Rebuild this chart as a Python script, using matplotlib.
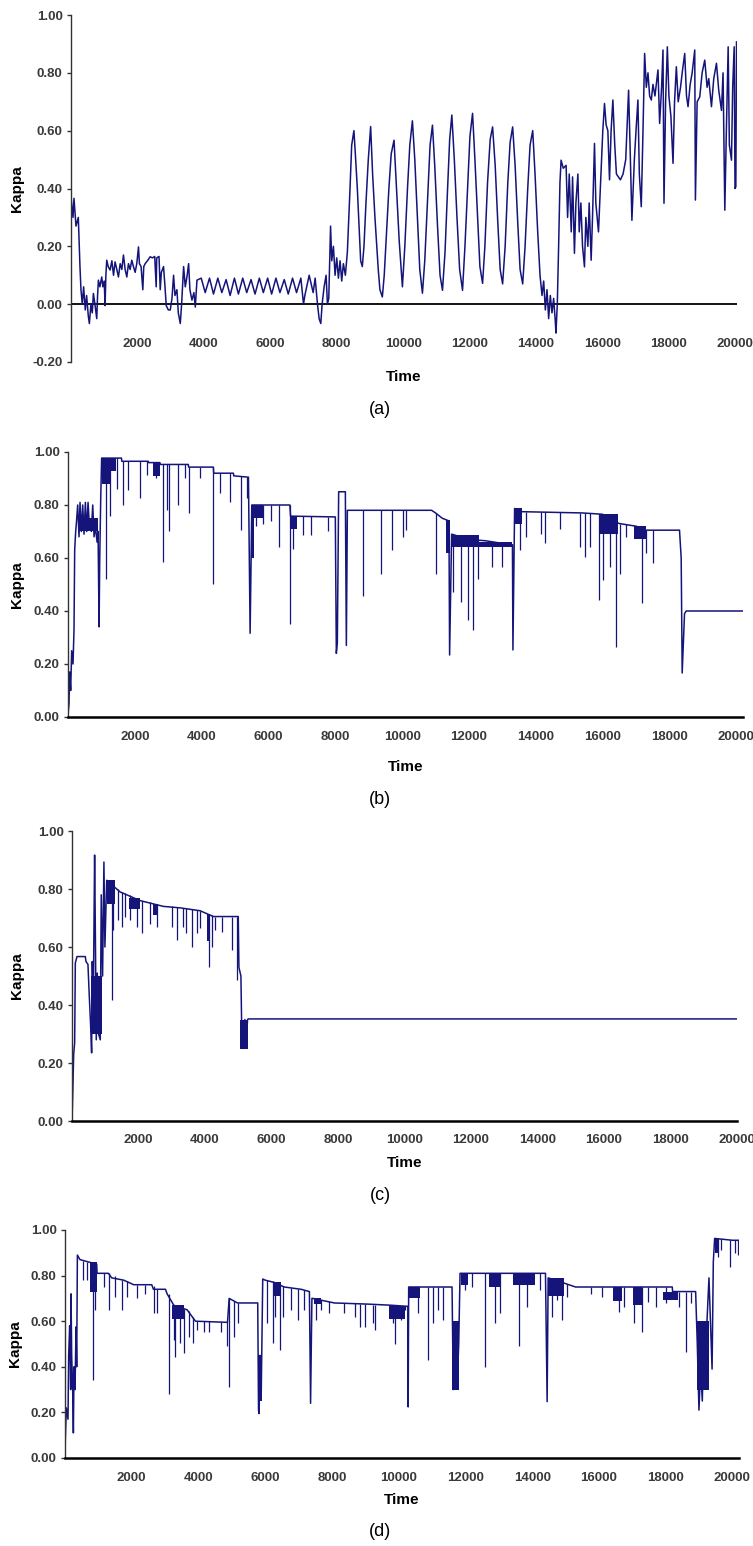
import matplotlib
matplotlib.use("Agg")
import matplotlib.pyplot as plt
import numpy as np

plt.rcParams['font.family'] = ['Liberation Sans', 'DejaVu Sans']

# ---- panel (a): kappa trace, (time, kappa)
a_points = [
    (0, 0.37), (60, 0.30), (90, 0.366), (150, 0.27), (220, 0.30), (270, 0.13), (300, 0.05),
    (340, 0.0), (380, 0.06), (430, -0.02), (470, 0.03), (520, -0.04), (553, -0.067), (600, 0.0),
    (640, -0.03), (674, 0.037), (720, 0.0), (775, -0.05), (800, 0.03), (825, 0.083), (870, 0.06),
    (925, 0.094), (960, 0.06), (1000, 0.08), (1026, -0.005), (1050, 0.10), (1076, 0.152),
    (1120, 0.13), (1177, 0.118), (1230, 0.15), (1280, 0.10), (1327, 0.146), (1380, 0.12),
    (1428, 0.094), (1480, 0.14), (1530, 0.12), (1579, 0.17), (1630, 0.12), (1680, 0.094),
    (1730, 0.14), (1780, 0.12), (1830, 0.152), (1880, 0.13), (1931, 0.11), (1980, 0.14),
    (2032, 0.198), (2060, 0.14), (2110, 0.13), (2162, 0.05), (2190, 0.13), (2233, 0.14),
    (2300, 0.15), (2384, 0.164), (2450, 0.16), (2520, 0.165), (2565, 0.06), (2580, 0.16),
    (2650, 0.165), (2686, 0.05), (2720, 0.11), (2786, 0.13), (2830, 0.06), (2867, -0.005),
    (2930, -0.02), (2988, -0.02), (3040, 0.02), (3088, 0.10), (3130, 0.03), (3189, 0.05),
    (3230, -0.03), (3290, -0.067), (3330, 0.0), (3390, 0.13), (3440, 0.06), (3490, 0.094),
    (3541, 0.14), (3580, 0.05), (3641, 0.014), (3700, 0.04), (3742, -0.01), (3792, 0.083),
    (3920, 0.09), (4040, 0.04), (4170, 0.09), (4290, 0.035), (4420, 0.09), (4540, 0.04),
    (4670, 0.085), (4790, 0.03), (4920, 0.09), (5040, 0.035), (5170, 0.09), (5290, 0.04),
    (5420, 0.085), (5540, 0.035), (5670, 0.09), (5790, 0.04), (5920, 0.09), (6040, 0.035),
    (6170, 0.09), (6290, 0.04), (6420, 0.085), (6540, 0.035), (6670, 0.09), (6790, 0.04),
    (6920, 0.09), (7000, 0.0), (7040, 0.03), (7170, 0.10), (7290, 0.04), (7350, 0.09),
    (7420, 0.0), (7470, -0.05), (7520, -0.067), (7560, 0.0), (7620, 0.06), (7680, 0.10),
    (7720, 0.0), (7760, 0.02), (7814, 0.27), (7850, 0.15), (7900, 0.20), (7950, 0.10),
    (8000, 0.16), (8050, 0.09), (8100, 0.15), (8150, 0.08), (8200, 0.14), (8260, 0.10),
    (8320, 0.18), (8400, 0.40), (8450, 0.55), (8517, 0.60), (8560, 0.52), (8620, 0.40),
    (8680, 0.25), (8720, 0.15), (8770, 0.13), (8820, 0.20), (8880, 0.35), (8950, 0.50),
    (9021, 0.614), (9080, 0.45), (9150, 0.30), (9250, 0.12), (9300, 0.05), (9373, 0.025),
    (9430, 0.10), (9500, 0.25), (9570, 0.40), (9640, 0.52), (9725, 0.567), (9800, 0.40),
    (9880, 0.22), (9977, 0.06), (10050, 0.20), (10130, 0.40), (10200, 0.55), (10278, 0.634),
    (10350, 0.50), (10430, 0.30), (10500, 0.12), (10580, 0.038), (10650, 0.15), (10730, 0.35),
    (10810, 0.55), (10882, 0.619), (10950, 0.48), (11030, 0.28), (11110, 0.10), (11184, 0.048),
    (11260, 0.18), (11330, 0.38), (11400, 0.57), (11465, 0.654), (11540, 0.50), (11620, 0.30),
    (11700, 0.12), (11787, 0.048), (11860, 0.20), (11940, 0.40), (12010, 0.58), (12089, 0.66),
    (12160, 0.50), (12240, 0.30), (12310, 0.13), (12391, 0.072), (12460, 0.20), (12540, 0.42),
    (12620, 0.57), (12692, 0.613), (12770, 0.48), (12850, 0.28), (12920, 0.12), (12994, 0.07),
    (13070, 0.20), (13150, 0.42), (13220, 0.56), (13296, 0.613), (13370, 0.48), (13450, 0.28),
    (13520, 0.12), (13598, 0.07), (13670, 0.20), (13750, 0.40), (13820, 0.55), (13900, 0.60),
    (13970, 0.45), (14050, 0.25), (14120, 0.10), (14180, 0.03), (14230, 0.08), (14280, -0.02),
    (14330, 0.05), (14380, -0.05), (14430, 0.03), (14480, -0.03), (14530, 0.02), (14580, -0.06),
    (14600, -0.10), (14640, 0.0), (14680, 0.20), (14720, 0.42), (14754, 0.498), (14820, 0.47),
    (14905, 0.48), (14950, 0.30), (15000, 0.45), (15060, 0.25), (15100, 0.44), (15156, 0.176),
    (15200, 0.35), (15260, 0.45), (15300, 0.25), (15350, 0.35), (15400, 0.20), (15458, 0.129),
    (15500, 0.30), (15560, 0.20), (15600, 0.35), (15659, 0.152), (15700, 0.30), (15760, 0.556),
    (15800, 0.35), (15880, 0.25), (15961, 0.464), (16010, 0.60), (16061, 0.694), (16110, 0.62),
    (16162, 0.60), (16212, 0.43), (16260, 0.60), (16313, 0.706), (16370, 0.55), (16420, 0.45),
    (16540, 0.43), (16620, 0.45), (16700, 0.50), (16786, 0.74), (16830, 0.55), (16886, 0.29),
    (16960, 0.50), (17010, 0.60), (17067, 0.706), (17110, 0.45), (17168, 0.337), (17220, 0.60),
    (17269, 0.867), (17320, 0.75), (17370, 0.80), (17420, 0.72), (17470, 0.706), (17520, 0.76),
    (17580, 0.72), (17671, 0.81), (17721, 0.625), (17780, 0.75), (17822, 0.879), (17852, 0.349),
    (17900, 0.70), (17953, 0.89), (18000, 0.72), (18060, 0.65), (18124, 0.487), (18170, 0.70),
    (18224, 0.821), (18280, 0.70), (18350, 0.75), (18400, 0.80), (18476, 0.867), (18530, 0.72),
    (18576, 0.683), (18640, 0.76), (18700, 0.80), (18778, 0.879), (18798, 0.36), (18850, 0.70),
    (18929, 0.717), (19000, 0.80), (19079, 0.844), (19150, 0.75), (19200, 0.78), (19281, 0.683),
    (19350, 0.78), (19432, 0.833), (19500, 0.74), (19583, 0.67), (19630, 0.80), (19683, 0.325),
    (19730, 0.60), (19784, 0.89), (19820, 0.55), (19884, 0.498), (19920, 0.75), (19965, 0.89),
    (19990, 0.40), (20015, 0.406), (20035, 0.907),
]

# ---- panel (b): level trace, dips (time, low, level), dense bands (t0, t1, low, high)
b_points = [
    (0, 0.01), (30, 0.05), (50, 0.17), (80, 0.10), (110, 0.25), (150, 0.20), (180, 0.33),
    (200, 0.63), (230, 0.70), (250, 0.73), (290, 0.80), (330, 0.68), (360, 0.81), (400, 0.70),
    (440, 0.80), (480, 0.69), (520, 0.81), (560, 0.70), (600, 0.81), (640, 0.72), (700, 0.70),
    (740, 0.80), (780, 0.68), (820, 0.72), (870, 0.66), (900, 0.70), (930, 0.34), (950, 0.60),
    (980, 0.83), (1007, 0.977), (1600, 0.977), (1610, 0.965), (2400, 0.965), (2410, 0.96),
    (2750, 0.96), (2760, 0.953), (3600, 0.953), (3610, 0.943), (4350, 0.943), (4360, 0.92),
    (4950, 0.92), (4960, 0.91), (5400, 0.905), (5450, 0.316), (5480, 0.60), (5500, 0.80),
    (6640, 0.80), (6660, 0.758), (8000, 0.755), (8030, 0.24), (8060, 0.28), (8100, 0.85),
    (8300, 0.85), (8330, 0.27), (8360, 0.78), (10880, 0.78), (11000, 0.77), (11200, 0.75),
    (11400, 0.74), (11420, 0.234), (11480, 0.69), (12000, 0.67), (12500, 0.665), (13000, 0.655),
    (13300, 0.65), (13315, 0.253), (13365, 0.787), (13500, 0.775), (15400, 0.77), (16000, 0.765),
    (16300, 0.74), (16500, 0.73), (17000, 0.72), (17300, 0.705), (18300, 0.705), (18350, 0.60),
    (18380, 0.166), (18450, 0.39), (18500, 0.40), (20200, 0.40),
]
b_dips = [
    (1136, 0.52, 0.977), (1255, 0.76, 0.977), (1455, 0.86, 0.977), (1654, 0.80, 0.965),
    (1804, 0.857, 0.965), (2153, 0.825, 0.965), (2352, 0.914, 0.965), (2631, 0.90, 0.96),
    (2850, 0.584, 0.953), (2950, 0.78, 0.953), (3030, 0.70, 0.953), (3299, 0.80, 0.953),
    (3498, 0.90, 0.953), (3628, 0.77, 0.943), (3947, 0.90, 0.943), (4346, 0.50, 0.943),
    (4545, 0.844, 0.92), (4844, 0.81, 0.92), (5163, 0.705, 0.91), (5342, 0.825, 0.905),
    (5641, 0.72, 0.80), (5840, 0.73, 0.80), (6089, 0.74, 0.80), (6318, 0.64, 0.80),
    (6657, 0.35, 0.80), (6737, 0.635, 0.758), (7036, 0.686, 0.758), (7285, 0.686, 0.757),
    (7783, 0.70, 0.755), (8830, 0.457, 0.78), (9379, 0.54, 0.78), (9708, 0.63, 0.78),
    (10026, 0.68, 0.78), (10126, 0.705, 0.78), (11024, 0.54, 0.77), (11520, 0.47, 0.69),
    (11770, 0.435, 0.68), (11980, 0.366, 0.67), (12110, 0.328, 0.67), (12280, 0.52, 0.667),
    (12680, 0.567, 0.66), (12980, 0.567, 0.655), (13515, 0.63, 0.775), (13714, 0.68, 0.775),
    (14163, 0.69, 0.775), (14263, 0.655, 0.775), (14712, 0.71, 0.772), (15310, 0.64, 0.77),
    (15460, 0.605, 0.77), (15610, 0.64, 0.768), (15887, 0.442, 0.767), (16007, 0.517, 0.765),
    (16207, 0.567, 0.75), (16386, 0.264, 0.735), (16505, 0.54, 0.73), (16705, 0.68, 0.727),
    (17004, 0.69, 0.72), (17184, 0.43, 0.71), (17303, 0.62, 0.705), (17502, 0.58, 0.705),
]
b_bands = [
    (350, 900, 0.70, 0.75), (1007, 1250, 0.88, 0.977), (1250, 1450, 0.93, 0.977),
    (2550, 2750, 0.91, 0.96), (5470, 5560, 0.60, 0.80), (5560, 5850, 0.75, 0.80),
    (6660, 6850, 0.71, 0.758), (11320, 11440, 0.62, 0.745), (11480, 12300, 0.64, 0.685),
    (12300, 13300, 0.64, 0.66), (13365, 13580, 0.73, 0.787), (15900, 16450, 0.69, 0.765),
    (16950, 17300, 0.67, 0.72),
]

# ---- panel (c)
c_points = [
    (0, 0.0), (30, 0.13), (50, 0.23), (80, 0.27), (100, 0.545), (150, 0.567), (400, 0.567),
    (420, 0.55), (480, 0.54), (520, 0.43), (560, 0.33), (590, 0.235), (610, 0.55), (640, 0.40),
    (680, 0.917), (700, 0.68), (730, 0.28), (760, 0.51), (800, 0.30), (850, 0.28), (880, 0.78),
    (920, 0.50), (960, 0.893), (990, 0.60), (1043, 0.83), (1445, 0.79), (2047, 0.76),
    (2750, 0.74), (3250, 0.735), (3853, 0.725), (4254, 0.705), (5000, 0.705), (5020, 0.53),
    (5080, 0.50), (5100, 0.35), (5150, 0.25), (5200, 0.35), (5230, 0.255), (5280, 0.35),
    (5300, 0.352), (20000, 0.352),
]
c_dips = [
    (1194, 0.417, 0.82), (1244, 0.659, 0.82), (1395, 0.693, 0.80), (1495, 0.67, 0.79),
    (1595, 0.705, 0.785), (1746, 0.693, 0.78), (1947, 0.67, 0.765), (2097, 0.647, 0.76),
    (2348, 0.68, 0.755), (2548, 0.67, 0.745), (3000, 0.67, 0.74), (3150, 0.624, 0.737),
    (3351, 0.67, 0.735), (3431, 0.647, 0.733), (3602, 0.60, 0.73), (3752, 0.647, 0.727),
    (3853, 0.664, 0.725), (4134, 0.532, 0.715), (4204, 0.60, 0.71), (4305, 0.658, 0.705),
    (4505, 0.652, 0.705), (4806, 0.59, 0.705), (4957, 0.486, 0.705),
]
c_bands = [
    (560, 900, 0.30, 0.50), (1043, 1280, 0.75, 0.83), (1700, 2050, 0.73, 0.77),
    (2450, 2580, 0.71, 0.75), (4060, 4140, 0.62, 0.715), (5060, 5290, 0.25, 0.35),
]

# ---- panel (d)
d_points = [
    (0, 0.035), (40, 0.22), (90, 0.17), (110, 0.45), (140, 0.58), (170, 0.30), (181, 0.72),
    (200, 0.45), (230, 0.30), (251, 0.11), (270, 0.40), (300, 0.30), (331, 0.575), (350, 0.40),
    (371, 0.89), (450, 0.87), (700, 0.86), (950, 0.85), (960, 0.81), (1300, 0.81), (1400, 0.79),
    (1760, 0.78), (2060, 0.76), (2600, 0.76), (2650, 0.74), (3010, 0.74), (3060, 0.72),
    (3260, 0.67), (3660, 0.65), (3910, 0.60), (4870, 0.595), (4920, 0.70), (5170, 0.68),
    (5776, 0.68), (5800, 0.21), (5816, 0.195), (5850, 0.45), (5880, 0.27), (5926, 0.785),
    (6000, 0.78), (6270, 0.77), (6570, 0.75), (7074, 0.74), (7325, 0.73), (7360, 0.24),
    (7400, 0.70), (7425, 0.70), (8070, 0.68), (9070, 0.675), (9780, 0.67), (10280, 0.665),
    (10285, 0.224), (10300, 0.75), (11600, 0.75), (11620, 0.50), (11650, 0.30), (11700, 0.40),
    (11750, 0.31), (11800, 0.50), (11840, 0.81), (14400, 0.81), (14450, 0.247), (14480, 0.79),
    (14800, 0.775), (15100, 0.76), (15300, 0.75), (18200, 0.75), (18210, 0.73), (18900, 0.73),
    (18950, 0.50), (19000, 0.21), (19050, 0.40), (19100, 0.25), (19150, 0.55), (19200, 0.47),
    (19300, 0.79), (19393, 0.39), (19430, 0.86), (19470, 0.963), (20000, 0.955), (20200, 0.955),
]
d_dips = [
    (552, 0.781, 0.865), (672, 0.78, 0.86), (853, 0.342, 0.86), (903, 0.65, 0.86),
    (1154, 0.752, 0.81), (1304, 0.65, 0.81), (1505, 0.708, 0.80), (1706, 0.65, 0.78),
    (1856, 0.708, 0.775), (2157, 0.70, 0.76), (2408, 0.72, 0.76), (2659, 0.635, 0.755),
    (2759, 0.635, 0.74), (3110, 0.28, 0.72), (3260, 0.518, 0.67), (3311, 0.445, 0.67),
    (3461, 0.503, 0.66), (3561, 0.459, 0.655), (3712, 0.532, 0.645), (3842, 0.503, 0.62),
    (3963, 0.56, 0.60), (4164, 0.554, 0.60), (4315, 0.554, 0.60), (4666, 0.554, 0.595),
    (4866, 0.49, 0.595), (4917, 0.313, 0.70), (5067, 0.532, 0.69), (5187, 0.59, 0.68),
    (6068, 0.59, 0.78), (6219, 0.503, 0.775), (6289, 0.62, 0.77), (6450, 0.474, 0.76),
    (6520, 0.62, 0.755), (6771, 0.65, 0.745), (6971, 0.605, 0.74), (7172, 0.65, 0.735),
    (7523, 0.605, 0.70), (7673, 0.65, 0.695), (7924, 0.635, 0.69), (8376, 0.635, 0.68),
    (8677, 0.62, 0.678), (8828, 0.576, 0.676), (8978, 0.576, 0.675), (9229, 0.59, 0.673),
    (9281, 0.56, 0.67), (9833, 0.59, 0.665), (9883, 0.50, 0.665), (10084, 0.605, 0.665),
    (10185, 0.65, 0.665), (10586, 0.635, 0.75), (10887, 0.43, 0.75), (11038, 0.59, 0.75),
    (11188, 0.65, 0.75), (11339, 0.605, 0.75), (11990, 0.737, 0.81), (12191, 0.75, 0.81),
    (12592, 0.40, 0.81), (12873, 0.59, 0.81), (13043, 0.635, 0.81), (13595, 0.49, 0.81),
    (13846, 0.664, 0.81), (14247, 0.737, 0.81), (14599, 0.62, 0.79), (14749, 0.693, 0.78),
    (14900, 0.605, 0.775), (15050, 0.708, 0.765), (15753, 0.72, 0.75), (16104, 0.708, 0.75),
    (16606, 0.642, 0.75), (16756, 0.664, 0.75), (17057, 0.59, 0.75), (17288, 0.554, 0.75),
    (17458, 0.686, 0.75), (17709, 0.664, 0.75), (18010, 0.679, 0.75), (18261, 0.708, 0.73),
    (18412, 0.664, 0.73), (18613, 0.467, 0.73), (18763, 0.679, 0.73), (19566, 0.883, 0.96),
    (19666, 0.912, 0.96), (19917, 0.839, 0.955), (20068, 0.898, 0.955), (20170, 0.89, 0.955),
]
d_bands = [
    (760, 950, 0.73, 0.86), (3220, 3560, 0.61, 0.67), (5790, 5890, 0.25, 0.45),
    (6220, 6480, 0.71, 0.77), (7450, 7680, 0.675, 0.70), (9720, 10180, 0.61, 0.665),
    (10300, 10650, 0.70, 0.75), (11590, 11810, 0.30, 0.60), (11860, 12080, 0.76, 0.81),
    (12720, 13080, 0.75, 0.81), (13420, 14080, 0.76, 0.81), (14470, 14950, 0.71, 0.79),
    (16420, 16680, 0.69, 0.75), (17020, 17280, 0.67, 0.75), (17920, 18380, 0.695, 0.73),
    (18950, 19290, 0.30, 0.60), (19480, 19590, 0.90, 0.96),
]

xticks = list(range(2000, 20001, 2000))
NAVY = '#14147a'
W, H = 753, 1546

fig = plt.figure(figsize=(W / 100, H / 100), dpi=100)


def make_axes(left, right, top, bottom):
    return fig.add_axes([left / W, 1 - bottom / H, (right - left) / W, (bottom - top) / H])


def draw(ax, points, dips=(), bands=()):
    t, k = zip(*points)
    ax.plot(t, k, color=NAVY, lw=1.1)
    if dips:
        dt, lo, top = zip(*dips)
        ax.vlines(dt, lo, top, color=NAVY, lw=0.9)
    for t0, t1, lo, hi in bands:
        ax.bar(t0, hi - lo, width=t1 - t0, bottom=lo, align='edge', color=NAVY, linewidth=0)


def style(ax, xmax, ylim, pad, time_y, kappa_x):
    ax.set_xlim(0, xmax)
    ax.set_ylim(*ylim)
    ax.set_yticks(np.arange(ylim[0], ylim[1] + 0.001, 0.2))
    ax.yaxis.set_major_formatter(plt.FormatStrFormatter('%.2f'))
    ax.set_xticks(xticks)
    ax.set_xticklabels([str(v) for v in xticks])
    ax.spines['top'].set_visible(False)
    ax.spines['right'].set_visible(False)
    ax.spines['left'].set_color('#333333')
    ax.spines['left'].set_linewidth(1.0)
    ax.spines['bottom'].set_color('black')
    ax.spines['bottom'].set_linewidth(1.8)
    ax.tick_params(axis='y', length=3, width=1, color='#333333', pad=3,
                   labelsize=9.5, labelcolor='#3a3a3a')
    ax.tick_params(axis='x', length=0, pad=pad, labelsize=9.5, labelcolor='#3a3a3a')
    for lab in ax.get_xticklabels() + ax.get_yticklabels():
        lab.set_fontweight('bold')
    ax.set_xlabel('Time', fontsize=11, fontweight='bold')
    ax.xaxis.label.set_va('center')
    ax.xaxis.set_label_coords(0.5, time_y)
    ax.set_ylabel('Kappa', fontsize=11, fontweight='bold')
    ax.yaxis.label.set_va('center')
    ax.yaxis.set_label_coords(kappa_x, 0.5)
    ax.patch.set_alpha(0)


# (a)
ax_a = make_axes(71, 737, 15, 362)
ax_a.axhline(0, color='black', lw=1.3, xmin=0, xmax=20035 / 20050)
draw(ax_a, a_points)
style(ax_a, 20050, (-0.2, 1.0), -17.5, -0.043, -0.081)
ax_a.spines['bottom'].set_visible(False)

# (b)
ax_b = make_axes(68, 743, 452, 717)
draw(ax_b, b_points, b_dips, b_bands)
style(ax_b, 20200, (0.0, 1.0), 10, -0.189, -0.0756)

# (c)
ax_c = make_axes(72, 737, 831, 1121)
draw(ax_c, c_points, c_dips, c_bands)
style(ax_c, 20000, (0.0, 1.0), 9.5, -0.145, -0.0827)

# (d)
ax_d = make_axes(65, 739, 1230, 1458)
draw(ax_d, d_points, d_dips, d_bands)
style(ax_d, 20200, (0.0, 1.0), 10, -0.184, -0.0744)

for lab, y in [('(a)', 410), ('(b)', 800), ('(c)', 1196), ('(d)', 1532)]:
    fig.text(380 / W, 1 - y / H, lab, ha='center', va='center', fontsize=13)

fig.savefig('out.png', dpi=100)
